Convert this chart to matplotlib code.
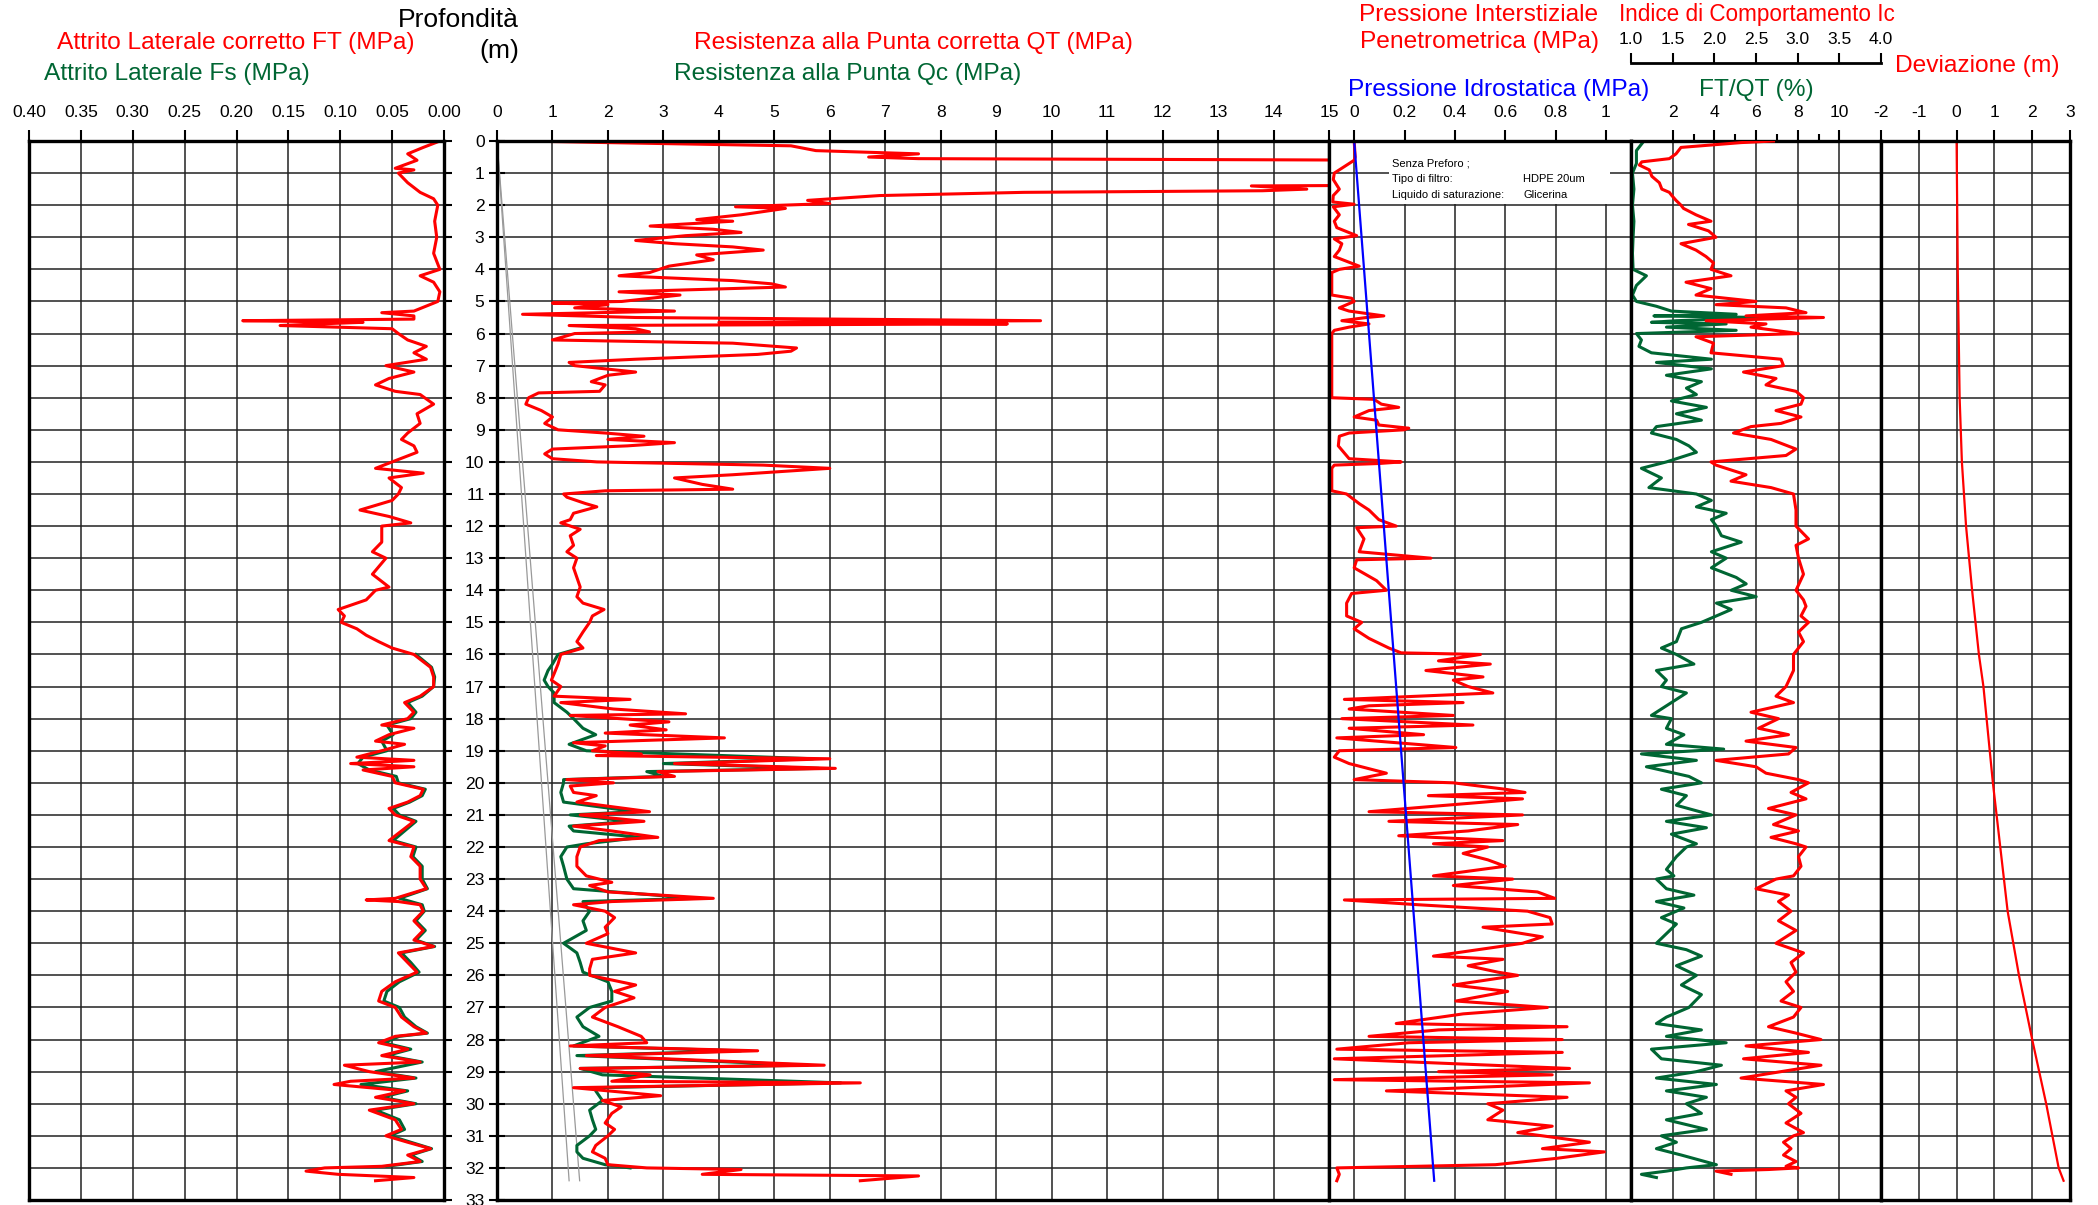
import matplotlib
matplotlib.use('Agg')
import matplotlib.pyplot as plt
from matplotlib import font_manager
from matplotlib.patches import Rectangle
import numpy as np

### fonts: narrow sans if present
names = {f.name for f in font_manager.fontManager.ttflist}
NARROW = 'Liberation Sans Narrow' in names
plt.rcParams['font.family'] = ['Liberation Sans Narrow', 'Liberation Sans', 'DejaVu Sans'] if NARROW else ['Liberation Sans', 'DejaVu Sans']
plt.rcParams['axes.unicode_minus'] = False
k = 1.0 if NARROW else 0.84

RED = '#ff0000'
GREEN = '#006633'
BLUE = '#0000ff'

#%% DATA
### friction (MPa)
ft_depth = [0.0, 0.2, 0.4, 0.6, 0.85, 0.9, 1.0, 1.3, 1.6, 1.8, 2.0, 2.5, 3.0, 3.5, 4.0, 4.2, 4.4, 4.7, 5.0, 5.3,
            5.35, 5.45, 5.55, 5.6, 5.65, 5.7, 5.75, 5.85, 6.0, 6.2, 6.4, 6.6, 6.8, 7.0, 7.2, 7.4, 7.6, 7.8, 7.9, 8.2,
            8.5, 8.8, 9.1, 9.3, 9.5, 9.7, 10.0, 10.2, 10.35, 10.5, 10.8, 11.0, 11.2, 11.5, 11.7, 11.9, 12.0, 12.5, 12.8, 13.0,
            13.5, 13.9, 14.0, 14.3, 14.6, 14.8, 15.0, 15.2, 15.4, 15.6, 15.8, 16.0, 16.4, 16.7, 17.0, 17.3, 17.5, 17.8, 18.0, 18.2,
            18.3, 18.5, 18.7, 18.8, 19.0, 19.2, 19.3, 19.4, 19.5, 19.6, 19.8, 20.0, 20.2, 20.4, 20.6, 20.8, 21.0, 21.2, 21.5, 21.8,
            22.0, 22.3, 22.6, 23.0, 23.3, 23.6, 23.65, 23.7, 23.8, 24.0, 24.3, 24.6, 24.9, 25.1, 25.3, 25.6, 25.9, 26.2, 26.5, 26.8,
            27.0, 27.3, 27.6, 27.8, 27.9, 28.1, 28.3, 28.5, 28.7, 28.8, 29.0, 29.2, 29.3, 29.4, 29.6, 29.8, 30.0, 30.2, 30.5, 30.8,
            31.0, 31.2, 31.4, 31.6, 31.8, 31.95, 32.0, 32.1, 32.2, 32.3, 32.4]
ft_mpa = [0.004, 0.020, 0.035, 0.026, 0.047, 0.029, 0.044, 0.035, 0.023, 0.010, 0.006, 0.009, 0.007, 0.010, 0.004, 0.023, 0.010, 0.004, 0.006, 0.029,
          0.060, 0.029, 0.029, 0.194, 0.078, 0.120, 0.158, 0.050, 0.044, 0.035, 0.017, 0.029, 0.017, 0.056, 0.029, 0.053, 0.066, 0.047, 0.023, 0.010,
          0.026, 0.023, 0.035, 0.041, 0.029, 0.026, 0.050, 0.066, 0.020, 0.053, 0.041, 0.044, 0.050, 0.081, 0.053, 0.032, 0.060, 0.060, 0.069, 0.056,
          0.069, 0.053, 0.066, 0.075, 0.102, 0.096, 0.099, 0.084, 0.075, 0.063, 0.050, 0.029, 0.013, 0.010, 0.010, 0.023, 0.038, 0.029, 0.035, 0.060,
          0.029, 0.053, 0.066, 0.038, 0.060, 0.084, 0.029, 0.090, 0.029, 0.078, 0.050, 0.047, 0.020, 0.023, 0.035, 0.053, 0.047, 0.029, 0.041, 0.053,
          0.029, 0.032, 0.023, 0.023, 0.017, 0.047, 0.075, 0.044, 0.023, 0.020, 0.029, 0.020, 0.029, 0.010, 0.044, 0.035, 0.026, 0.047, 0.060, 0.063,
          0.047, 0.041, 0.029, 0.017, 0.047, 0.063, 0.035, 0.060, 0.023, 0.096, 0.072, 0.029, 0.090, 0.106, 0.038, 0.066, 0.029, 0.072, 0.047, 0.041,
          0.056, 0.035, 0.013, 0.035, 0.023, 0.060, 0.115, 0.133, 0.102, 0.029, 0.066]
fs_depth = [16.0, 16.4, 16.7, 17.0, 17.3, 17.5, 17.8, 18.0, 18.2, 18.5, 18.7, 19.0, 19.2, 19.4, 19.6, 19.8, 20.0, 20.2, 20.4, 20.6,
            20.8, 21.0, 21.2, 21.5, 21.8, 22.0, 22.3, 22.6, 23.0, 23.3, 23.6, 23.8, 24.0, 24.3, 24.6, 24.9, 25.1, 25.3, 25.6, 25.9,
            26.2, 26.5, 26.8, 27.0, 27.3, 27.6, 27.8, 27.9, 28.1, 28.3, 28.5, 28.7, 29.0, 29.2, 29.4, 29.6, 29.8, 30.0, 30.2, 30.5,
            30.8, 31.0, 31.2, 31.4, 31.6, 31.8, 31.95]
fs_mpa = [0.027, 0.012, 0.009, 0.010, 0.021, 0.035, 0.027, 0.032, 0.055, 0.049, 0.060, 0.055, 0.078, 0.083, 0.072, 0.046, 0.044, 0.018, 0.021, 0.033,
          0.049, 0.043, 0.027, 0.038, 0.049, 0.027, 0.030, 0.021, 0.021, 0.016, 0.043, 0.021, 0.019, 0.027, 0.018, 0.027, 0.009, 0.041, 0.032, 0.024,
          0.043, 0.055, 0.058, 0.043, 0.038, 0.027, 0.016, 0.043, 0.058, 0.032, 0.055, 0.021, 0.066, 0.027, 0.080, 0.035, 0.060, 0.027, 0.066, 0.043,
          0.038, 0.052, 0.032, 0.012, 0.032, 0.021, 0.055]

### cone resistance (MPa)
qt_depth = [0.0, 0.05, 0.15, 0.3, 0.4, 0.5, 0.55, 0.62, 1.35, 1.4, 1.5, 1.55, 1.6, 1.7, 1.85, 1.95, 2.05, 2.1, 2.3, 2.45,
            2.5, 2.65, 2.75, 2.85, 2.95, 3.1, 3.2, 3.3, 3.4, 3.55, 3.7, 3.9, 4.1, 4.2, 4.35, 4.45, 4.55, 4.7, 4.8, 5.0,
            5.05, 5.1, 5.2, 5.3, 5.4, 5.5, 5.6, 5.65, 5.7, 5.75, 5.85, 5.95, 6.0, 6.2, 6.3, 6.45, 6.55, 6.65, 6.8, 6.9,
            7.0, 7.2, 7.3, 7.5, 7.6, 7.8, 7.85, 8.0, 8.2, 8.4, 8.6, 8.8, 9.0, 9.1, 9.2, 9.3, 9.4, 9.5, 9.6, 9.75,
            9.9, 10.0, 10.1, 10.2, 10.4, 10.5, 10.7, 10.85, 10.9, 11.0, 11.1, 11.3, 11.4, 11.6, 11.8, 11.9, 12.1, 12.3, 12.6, 12.8,
            13.0, 13.3, 13.6, 13.9, 14.2, 14.4, 14.6, 14.8, 15.0, 15.3, 15.6, 15.8, 16.0, 16.3, 16.6, 16.8, 17.0, 17.3, 17.4, 17.5,
            17.7, 17.85, 17.9, 18.1, 18.2, 18.35, 18.45, 18.6, 18.75, 18.85, 19.0, 19.1, 19.15, 19.25, 19.4, 19.55, 19.65, 19.8, 19.9, 20.0,
            20.1, 20.3, 20.4, 20.6, 20.9, 21.0, 21.2, 21.35, 21.5, 21.7, 21.8, 22.0, 22.3, 22.6, 22.9, 23.1, 23.2, 23.4, 23.6, 23.7,
            23.8, 24.0, 24.2, 24.5, 24.7, 25.0, 25.3, 25.5, 25.8, 26.0, 26.3, 26.5, 26.7, 27.0, 27.3, 27.6, 27.9, 28.1, 28.2, 28.35,
            28.5, 28.8, 28.9, 29.1, 29.3, 29.35, 29.5, 29.75, 29.9, 30.1, 30.3, 30.6, 30.8, 31.0, 31.3, 31.5, 31.7, 31.9, 32.0, 32.05,
            32.2, 32.25, 32.4]
qt_mpa = [0.5, 2.0, 5.3, 5.75, 7.6, 6.7, 7.6, 20.0, 20.0, 13.6, 14.6, 13.8, 9.5, 6.9, 5.6, 6.0, 4.3, 5.2, 4.4, 3.6,
          4.25, 2.76, 3.9, 4.4, 3.4, 2.5, 3.2, 4.25, 4.8, 3.6, 3.9, 3.1, 2.75, 2.2, 4.25, 4.95, 5.2, 2.2, 3.3, 2.25,
          1.0, 2.0, 1.4, 3.2, 0.46, 2.5, 9.8, 4.0, 9.2, 1.3, 2.5, 2.75, 1.4, 1.0, 4.25, 5.4, 5.3, 4.7, 2.5, 1.3,
          1.4, 2.5, 2.0, 1.7, 1.95, 1.85, 0.75, 0.57, 0.52, 0.8, 1.0, 0.86, 1.1, 1.95, 2.65, 2.0, 3.2, 2.35, 1.0, 0.86,
          1.0, 1.8, 4.8, 6.0, 4.25, 3.2, 3.7, 4.25, 1.95, 1.2, 1.26, 1.6, 1.8, 1.38, 1.32, 1.15, 1.5, 1.32, 1.38, 1.26,
          1.44, 1.38, 1.44, 1.5, 1.44, 1.55, 1.93, 1.72, 1.67, 1.55, 1.44, 1.55, 1.15, 1.1, 1.03, 0.98, 1.15, 1.03, 2.4, 1.15,
          2.1, 3.4, 1.32, 3.1, 2.4, 3.05, 1.95, 4.1, 1.38, 1.95, 1.72, 2.6, 1.79, 6.0, 3.2, 6.1, 2.9, 3.2, 1.26, 2.1,
          1.32, 1.38, 1.79, 1.44, 2.75, 1.5, 2.65, 1.38, 2.07, 2.9, 1.84, 1.5, 1.44, 1.44, 1.61, 2.07, 1.67, 2.0, 3.9, 2.07,
          1.38, 1.95, 2.12, 1.95, 2.0, 1.61, 2.5, 1.72, 1.67, 1.67, 2.5, 2.12, 2.47, 1.95, 1.72, 2.18, 2.6, 2.7, 1.32, 4.7,
          1.61, 5.9, 1.5, 2.76, 2.07, 6.55, 1.38, 2.95, 1.9, 2.24, 2.07, 1.95, 2.12, 2.0, 1.78, 1.72, 1.95, 2.0, 2.7, 4.4,
          3.7, 7.6, 6.55]
qc_depth = [15.8, 16.0, 16.3, 16.5, 16.8, 17.0, 17.2, 17.5, 17.8, 18.0, 18.3, 18.5, 18.8, 19.0, 19.25, 19.4, 19.55, 19.65, 19.8, 19.9,
            20.0, 20.3, 20.6, 20.9, 21.0, 21.2, 21.35, 21.5, 21.7, 21.9, 22.0, 22.3, 22.6, 23.0, 23.3, 23.6, 23.7, 24.0, 24.3, 24.6,
            25.0, 25.3, 25.6, 25.9, 26.2, 26.5, 26.8, 27.0, 27.3, 27.6, 27.9, 28.2, 28.35, 28.5, 28.8, 28.9, 29.1, 29.35, 29.5, 29.6,
            29.9, 30.2, 30.5, 30.8, 31.0, 31.3, 31.5, 31.7, 31.9, 32.0]
qc_mpa = [1.5, 1.1, 1.0, 0.92, 0.85, 0.92, 1.03, 1.03, 1.26, 1.38, 1.55, 1.78, 1.3, 1.61, 5.7, 3.0, 5.8, 2.7, 3.0, 1.2,
          1.2, 1.15, 1.2, 2.5, 1.32, 2.4, 1.3, 1.38, 2.6, 1.61, 1.26, 1.15, 1.2, 1.26, 1.38, 3.6, 1.55, 1.67, 1.55, 1.61,
          1.2, 1.44, 1.5, 1.55, 2.0, 2.07, 2.07, 1.67, 1.44, 1.55, 1.84, 1.38, 4.4, 1.44, 5.6, 1.5, 1.9, 6.2, 1.78, 1.78,
          1.9, 1.67, 1.72, 1.78, 1.67, 1.44, 1.44, 1.55, 1.95, 2.4]
ref_depth = [0.0, 32.4]
ref_lo = [0.0, 1.30]
ref_hi = [0.0, 1.49]

### pore pressure (MPa)
u2_depth = [0.0, 0.5, 0.6, 0.9, 1.0, 1.2, 1.5, 1.7, 1.9, 1.97, 2.05, 2.3, 2.5, 2.7, 2.95, 3.05, 3.2, 3.4, 3.6, 3.9,
            4.0, 4.1, 4.5, 4.8, 4.9, 5.0, 5.2, 5.3, 5.45, 5.5, 5.6, 5.7, 5.8, 5.9, 6.0, 7.0, 8.0, 8.05, 8.2, 8.3,
            8.4, 8.6, 8.7, 8.85, 8.95, 9.0, 9.1, 9.2, 9.5, 9.9, 10.0, 10.05, 10.1, 10.2, 10.9, 11.0, 11.3, 11.5, 11.8, 12.0,
            12.05, 12.4, 12.8, 13.0, 13.05, 13.3, 13.7, 14.0, 14.1, 14.4, 14.8, 15.0, 15.2, 15.5, 15.8, 15.95, 16.0, 16.2, 16.3, 16.5,
            16.7, 16.8, 17.0, 17.2, 17.4, 17.5, 17.6, 17.7, 17.9, 18.0, 18.2, 18.3, 18.5, 18.6, 18.9, 19.0, 19.2, 19.4, 19.7, 19.9,
            20.0, 20.2, 20.3, 20.4, 20.5, 20.9, 21.0, 21.2, 21.3, 21.5, 21.65, 21.8, 21.9, 22.0, 22.2, 22.4, 22.6, 22.9, 23.0, 23.2,
            23.4, 23.6, 23.65, 23.8, 24.0, 24.2, 24.4, 24.5, 24.8, 25.0, 25.4, 25.5, 25.7, 25.9, 26.0, 26.3, 26.5, 26.8, 27.0, 27.2,
            27.5, 27.6, 27.7, 27.9, 28.0, 28.1, 28.3, 28.4, 28.6, 28.9, 29.0, 29.1, 29.25, 29.35, 29.6, 29.8, 30.0, 30.2, 30.5, 30.7,
            30.9, 31.0, 31.2, 31.4, 31.5, 31.7, 31.9, 32.0, 32.2, 32.4]
u2_mpa = [0.0, 0.004, 0.0, -0.059, -0.079, -0.083, -0.059, -0.083, -0.085, 0.0, -0.083, -0.059, -0.079, -0.069, 0.01, -0.079, -0.049, -0.059, -0.079, 0.02,
          -0.059, -0.089, -0.089, -0.089, -0.01, 0.0, -0.059, -0.02, 0.118, 0.049, -0.049, 0.059, -0.02, -0.079, -0.089, -0.089, -0.089, 0.079, 0.108, 0.177,
          0.059, 0.0, 0.089, 0.098, 0.217, 0.197, -0.02, -0.059, -0.063, -0.02, 0.187, 0.098, -0.079, -0.089, -0.089, -0.03, 0.02, 0.059, 0.098, 0.167,
          0.01, 0.039, 0.02, 0.305, 0.01, 0.0, 0.089, 0.128, -0.01, -0.03, -0.03, 0.03, 0.0, 0.059, 0.138, 0.187, 0.502, 0.335, 0.541, 0.285,
          0.512, 0.394, 0.453, 0.551, -0.039, 0.433, 0.059, -0.02, 0.394, -0.049, 0.472, -0.02, 0.276, -0.069, 0.404, -0.059, -0.079, -0.02, 0.128, 0.0,
          0.394, 0.6, 0.679, 0.295, 0.669, 0.059, 0.669, 0.138, 0.65, 0.453, 0.177, 0.591, 0.315, 0.531, 0.433, 0.531, 0.6, 0.315, 0.63, 0.394,
          0.728, 0.797, -0.039, 0.256, 0.689, 0.778, 0.787, 0.512, 0.748, 0.669, 0.315, 0.591, 0.453, 0.571, 0.65, 0.394, 0.61, 0.404, 0.768, 0.433,
          0.167, 0.846, 0.335, 0.059, 0.827, 0.217, -0.069, 0.827, -0.079, 0.856, 0.335, 0.787, -0.079, 0.935, 0.128, 0.846, 0.531, 0.591, 0.531, 0.787,
          0.65, 0.748, 0.935, 0.748, 0.994, 0.807, 0.561, -0.069, -0.059, -0.069]
u0_depth = [0.0, 32.4]
u0_mpa = [0.0, 0.318]

### friction ratio (%)
rf_depth = [0.0, 0.3, 0.7, 1.0, 1.5, 2.0, 2.5, 3.0, 3.5, 4.0, 4.2, 4.5, 4.8, 5.0, 5.15, 5.3, 5.4, 5.45, 5.5, 5.6,
            5.65, 5.7, 5.8, 5.9, 6.0, 6.2, 6.4, 6.6, 6.8, 6.9, 7.1, 7.3, 7.5, 7.7, 7.9, 8.1, 8.3, 8.5, 8.7, 8.9,
            9.1, 9.3, 9.5, 9.7, 10.0, 10.2, 10.5, 10.8, 11.0, 11.2, 11.4, 11.6, 11.8, 12.0, 12.3, 12.5, 12.8, 13.0, 13.3, 13.6,
            13.8, 14.0, 14.2, 14.4, 14.6, 14.8, 15.0, 15.2, 15.6, 15.8, 16.0, 16.3, 16.5, 16.8, 17.0, 17.2, 17.5, 17.9, 18.0, 18.3,
            18.5, 18.8, 18.95, 19.1, 19.3, 19.5, 19.8, 20.0, 20.2, 20.4, 20.7, 21.0, 21.2, 21.4, 21.6, 21.9, 22.0, 22.3, 22.7, 22.9,
            23.0, 23.3, 23.5, 23.7, 23.9, 24.2, 24.4, 24.7, 25.0, 25.2, 25.4, 25.7, 26.0, 26.3, 26.6, 27.0, 27.3, 27.5, 27.7, 27.9,
            28.1, 28.3, 28.6, 28.8, 29.0, 29.2, 29.4, 29.6, 29.8, 30.0, 30.3, 30.5, 30.8, 31.0, 31.2, 31.4, 31.6, 31.9, 32.0, 32.1,
            32.2, 32.3]
rf_pct = [0.62, 0.26, 0.26, 0.07, 0.14, 0.07, 0.14, 0.10, 0.07, 0.10, 0.74, 0.26, 0.07, 0.26, 1.22, 1.94, 5.05, 1.10, 6.25, 2.18,
          0.98, 4.57, 1.70, 5.05, 0.26, 0.50, 0.38, 0.98, 3.86, 1.22, 3.86, 1.70, 3.38, 2.66, 3.14, 1.94, 3.62, 2.18, 3.38, 1.22,
          0.98, 2.18, 2.78, 3.14, 1.70, 0.50, 1.46, 0.86, 3.14, 3.86, 3.14, 4.57, 3.86, 4.10, 4.34, 5.29, 3.86, 4.57, 3.86, 5.05,
          5.53, 4.81, 6.01, 4.10, 4.81, 4.10, 3.38, 2.42, 2.18, 1.46, 2.18, 3.02, 1.22, 1.70, 1.46, 2.66, 1.94, 0.98, 1.94, 1.70,
          2.54, 1.70, 4.45, 0.50, 3.14, 0.74, 2.78, 3.38, 1.46, 2.66, 2.18, 3.86, 1.70, 3.62, 1.94, 3.14, 2.66, 2.18, 1.70, 2.06,
          1.22, 1.70, 3.02, 1.22, 2.54, 1.46, 2.18, 1.70, 1.22, 2.66, 3.38, 2.18, 3.14, 2.42, 3.38, 2.78, 1.70, 1.22, 3.38, 1.70,
          4.57, 0.98, 1.46, 4.34, 3.14, 1.22, 4.10, 1.70, 3.62, 2.66, 3.38, 1.70, 3.62, 1.46, 2.18, 1.22, 2.42, 4.10, 2.66, 1.70,
          0.50, 1.22]

### soil behaviour type index Ic
ic_depth = [0.0, 0.05, 0.2, 0.4, 0.55, 0.65, 0.75, 0.9, 1.1, 1.3, 1.5, 1.6, 1.7, 1.85, 2.0, 2.1, 2.3, 2.5, 2.6, 2.8,
            3.0, 3.2, 3.4, 3.6, 3.8, 4.0, 4.2, 4.4, 4.6, 4.8, 5.0, 5.1, 5.2, 5.35, 5.45, 5.5, 5.6, 5.7, 5.8, 6.0,
            6.1, 6.3, 6.6, 6.8, 7.0, 7.2, 7.4, 7.6, 7.8, 8.0, 8.2, 8.4, 8.6, 8.8, 8.9, 9.1, 9.3, 9.6, 9.8, 10.0,
            10.1, 10.4, 10.6, 10.8, 11.0, 11.5, 12.0, 12.4, 12.6, 13.0, 13.5, 14.0, 14.3, 14.5, 14.8, 15.0, 15.3, 15.6, 16.0, 16.5,
            17.0, 17.3, 17.5, 17.8, 18.0, 18.3, 18.5, 18.7, 18.9, 19.1, 19.3, 19.5, 19.7, 19.9, 20.0, 20.3, 20.5, 20.8, 21.0, 21.3,
            21.5, 21.7, 21.9, 22.0, 22.3, 22.6, 22.9, 23.0, 23.3, 23.5, 23.7, 24.0, 24.3, 24.6, 24.9, 25.0, 25.3, 25.6, 25.9, 26.2,
            26.5, 26.8, 27.0, 27.3, 27.6, 27.8, 28.0, 28.2, 28.4, 28.6, 28.8, 29.0, 29.2, 29.4, 29.6, 29.8, 30.0, 30.3, 30.6, 30.9,
            31.0, 31.2, 31.4, 31.6, 31.8, 31.95, 32.0, 32.05, 32.1, 32.2]
ic_val = [2.71, 2.32, 1.60, 1.54, 1.46, 1.13, 1.10, 1.22, 1.25, 1.34, 1.37, 1.46, 1.49, 1.54, 1.60, 1.63, 1.78, 1.96, 1.69, 1.93,
          2.02, 1.60, 1.78, 1.90, 1.99, 1.96, 2.20, 1.66, 1.96, 1.78, 2.50, 2.02, 2.86, 3.10, 2.38, 3.31, 1.90, 2.62, 2.44, 3.01,
          1.78, 1.99, 1.96, 2.80, 2.83, 2.35, 2.74, 2.62, 2.98, 3.07, 3.04, 2.74, 3.04, 2.80, 2.44, 2.23, 2.68, 2.98, 2.86, 1.96,
          2.02, 2.38, 2.20, 2.68, 2.95, 2.98, 2.98, 3.13, 2.98, 3.01, 3.07, 2.98, 3.07, 3.10, 3.04, 3.13, 3.01, 3.07, 2.95, 2.95,
          2.86, 2.74, 2.95, 2.44, 2.77, 2.53, 2.89, 2.38, 2.98, 2.89, 2.02, 2.50, 2.62, 3.01, 3.13, 2.92, 3.10, 2.65, 2.98, 2.71,
          3.01, 2.68, 2.98, 3.10, 3.01, 3.04, 2.95, 2.74, 2.50, 2.89, 2.77, 2.92, 2.77, 2.98, 2.80, 2.74, 3.07, 2.92, 2.98, 2.86,
          2.95, 2.80, 3.04, 2.95, 2.65, 2.98, 3.28, 2.38, 3.13, 2.35, 3.28, 2.80, 2.32, 3.31, 2.86, 2.98, 2.89, 3.04, 2.86, 3.07,
          2.95, 2.83, 2.92, 2.83, 2.98, 2.86, 3.01, 2.65, 2.02, 2.20]

### deviation (m)
dev_depth = [0.0, 4.0, 8.0, 10.0, 12.0, 14.0, 16.0, 17.0, 20.0, 24.0, 26.0, 28.0, 30.0, 32.0, 32.4]
dev_m = [0.0, 0.03, 0.08, 0.14, 0.25, 0.41, 0.59, 0.71, 0.96, 1.35, 1.65, 2.0, 2.37, 2.7, 2.83]

#%% LAYOUT (pixels of the 2098x1205 picture)
W, H = 2098, 1205
Y_TOP, Y_BOT = 141, 1200
TICK_FS = 15 * k
TITLE_FS = 21 * k
LW = 2.2

fig = plt.figure(figsize=(W / 100, H / 100), dpi=100)

def panel(x0, x1):
    ax = fig.add_axes([x0 / W, 1 - Y_BOT / H, (x1 - x0) / W, (Y_BOT - Y_TOP) / H])
    ax.set_ylim(33, 0)
    ax.set_yticks(range(34))
    ax.xaxis.tick_top()
    ax.grid(True, color='#222222', lw=1.1)
    ax.set_axisbelow(True)
    for s in ax.spines.values():
        s.set_linewidth(2.4)
    ax.tick_params(axis='x', direction='out', length=8, width=1.5, pad=7, labelsize=TICK_FS)
    ax.tick_params(axis='y', length=0, labelleft=False)
    return ax

def ftxt(x, y, s, color='black', size=TITLE_FS, ha='center'):
    fig.text(x / W, 1 - y / H, s, color=color, fontsize=size, ha=ha, va='center')

#%% PANEL 1 - friction
ax1 = panel(29, 444)
ax1.set_xlim(0.40, 0.0)
ax1.set_xticks(np.arange(0, 0.401, 0.05))
ax1.set_xticklabels(['%.2f' % v for v in np.arange(0, 0.401, 0.05)])
ax1.yaxis.tick_right()
ax1.tick_params(axis='y', direction='out', length=6, width=1.5, labelright=False)
ax1.plot(fs_mpa, fs_depth, color=GREEN, lw=LW)
ax1.plot(ft_mpa, ft_depth, color=RED, lw=LW)

#%% PANEL 2 - cone resistance
ax2 = panel(497, 1329)
ax2.set_xlim(0, 15)
ax2.set_xticks(range(16))
ax2.tick_params(axis='y', direction='inout', length=12, width=1.5, pad=3, labelleft=True, labelsize=TICK_FS)
ax2.plot(ref_lo, ref_depth, color='#999999', lw=0.9)
ax2.plot(ref_hi, ref_depth, color='#999999', lw=0.9)
ax2.plot(qc_mpa, qc_depth, color=GREEN, lw=LW)
ax2.plot(qt_mpa, qt_depth, color=RED, lw=LW)

#%% PANEL 3 - pore pressure
ax3 = panel(1329, 1631)
ax3.set_xlim(-0.1, 1.1)
ax3.set_xticks([0, 0.2, 0.4, 0.6, 0.8, 1.0])
ax3.set_xticklabels(['0', '0.2', '0.4', '0.6', '0.8', '1'])
ax3.add_patch(Rectangle((0.14, 0.0), 0.875, 1.96, facecolor='white', edgecolor='none', zorder=1))
box_font = dict(fontsize=8, family=['Liberation Sans', 'DejaVu Sans'], va='center', zorder=3)
ax3.text(0.152, 0.69, 'Senza Preforo ;', **box_font)
ax3.text(0.152, 1.18, 'Tipo di filtro:', **box_font)
ax3.text(0.152, 1.68, 'Liquido di saturazione:', **box_font)
ax3.text(0.672, 1.18, 'HDPE 20um', **box_font)
ax3.text(0.672, 1.68, 'Glicerina', **box_font)
ax3.plot(u2_mpa, u2_depth, color=RED, lw=LW, zorder=2)
ax3.plot(u0_mpa, u0_depth, color=BLUE, lw=1.6, zorder=2)

#%% PANEL 4 - FT/QT and Ic
ax4 = panel(1631, 1881)
ax_ic = ax4.twiny()   # twiny moves ax4 ticks to the bottom, put them back on top
ax4.xaxis.tick_top()
ax4.set_xlim(0, 12)
ax4.set_xticks([2, 4, 6, 8, 10])
ax4.set_xticks([3, 5, 7, 9], minor=True)
ax4.tick_params(axis='x', which='major', direction='out', length=8, width=1.5, pad=7, labelsize=TICK_FS,
                top=True, bottom=False, labeltop=True, labelbottom=False)
ax4.tick_params(axis='x', which='minor', direction='out', length=5, width=1.5, top=True, bottom=False)
ax4.plot(rf_pct, rf_depth, color=GREEN, lw=LW)

ax_ic.set_xlim(1, 4)
ax_ic.set_ylim(33, 0)
ax_ic.set_xticks(np.arange(1.0, 4.01, 0.5))
ax_ic.set_xticklabels(['%.1f' % v for v in np.arange(1.0, 4.01, 0.5)])
for s in ['left', 'right', 'bottom']:
    ax_ic.spines[s].set_visible(False)
ax_ic.spines['top'].set_position(('outward', 56))
ax_ic.spines['top'].set_linewidth(2.0)
ax_ic.tick_params(axis='x', direction='out', length=7, width=1.5, pad=5, labelsize=TICK_FS)
ax_ic.tick_params(axis='y', length=0, labelleft=False, labelright=False)
ax_ic.plot(ic_val, ic_depth, color=RED, lw=LW)

#%% PANEL 5 - deviation
ax5 = panel(1881, 2070)
ax5.set_xlim(-2, 3)
ax5.set_xticks(range(-2, 4))
ax5.plot(dev_m, dev_depth, color=RED, lw=1.6)

#%% TITLES
ftxt(236, 43, 'Attrito Laterale corretto FT (MPa)', RED)
ftxt(177, 74, 'Attrito Laterale Fs (MPa)', GREEN)
ftxt(519, 20, 'Profondità', 'black', size=TITLE_FS * 1.08, ha='right')
ftxt(519, 51, '(m)', 'black', size=TITLE_FS * 1.08, ha='right')
ftxt(913, 43, 'Resistenza alla Punta corretta QT (MPa)', RED)
ftxt(848, 74, 'Resistenza alla Punta Qc (MPa)', GREEN)
ftxt(1479, 15, 'Pressione Interstiziale', RED)
ftxt(1479, 42, 'Penetrometrica (MPa)', RED)
ftxt(1499, 90, 'Pressione Idrostatica (MPa)', BLUE)
ftxt(1757, 14, 'Indice di Comportamento Ic', RED, size=TITLE_FS * 0.92)
ftxt(1977, 66, 'Deviazione (m)', RED)
ftxt(1756, 90, 'FT/QT (%)', GREEN)

fig.savefig('out.png', dpi=100)
